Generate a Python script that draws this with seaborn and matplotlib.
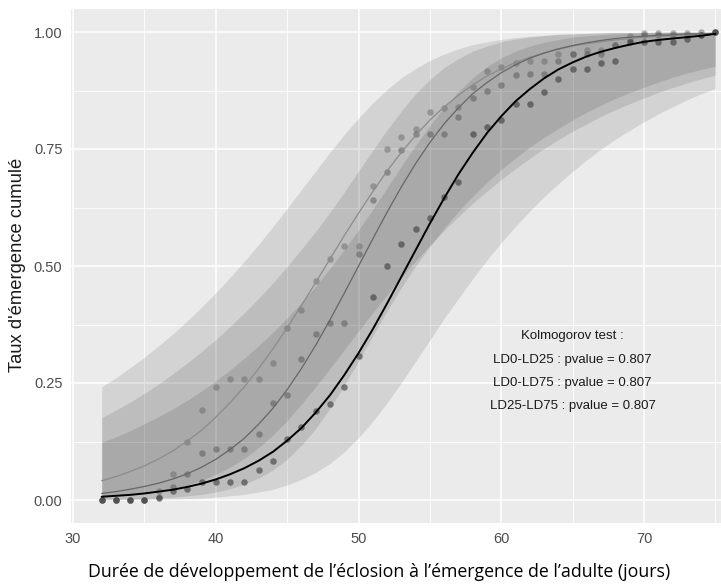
import pandas as pd
import matplotlib
matplotlib.use("Agg")
from matplotlib import pyplot as plt
import seaborn as sns

days = list(range(32, 76))

# observed cumulative emergence, one value per day (32..75)
pts_ld0 = [0, 0, 0, 0, 0.005, 0.019, 0.023, 0.039, 0.039, 0.039, 0.039,
           0.064, 0.083, 0.13, 0.155, 0.19, 0.205, 0.242, 0.308,
           0.434, 0.499, 0.546, 0.578, 0.602, 0.647, 0.679,
           0.782, 0.798, 0.812, 0.846, 0.846, 0.872, 0.899,
           0.922, 0.922, 0.933, 0.939,
           0.979, 0.979, 0.979, 0.979, 0.986, 0.994, 1.0]
pts_ld75 = [0, 0, 0, 0, 0.007, 0.028, 0.056, 0.1, 0.11, 0.11, 0.11,
            0.141, 0.207, 0.224, 0.301, 0.355, 0.379, 0.379, 0.525,
            0.642, 0.70, 0.748, 0.783, 0.783, 0.783, 0.818,
            0.858, 0.875, 0.886, 0.908, 0.91, 0.91, 0.937,
            0.954, 0.954, 0.954, 0.972,
            0.983, 0.994, 0.994, 0.994, 0.994, 0.994, 1.0]
pts_ld25 = [0, 0, 0, 0, 0.02, 0.055, 0.125, 0.192, 0.242, 0.258, 0.258,
            0.258, 0.293, 0.368, 0.407, 0.468, 0.516, 0.543, 0.543,
            0.671, 0.75, 0.775, 0.793, 0.83, 0.838, 0.84,
            0.883, 0.917, 0.926, 0.933, 0.937, 0.937, 0.954,
            0.954, 0.962, 0.962, 0.972,
            0.992, 0.997, 0.997, 0.997, 0.997, 1.0, 1.0]

# fitted curves and their confidence bands
fit_ld0 = [0.007, 0.009, 0.011, 0.014, 0.018, 0.022, 0.028, 0.035, 0.044, 0.055,
           0.068, 0.084, 0.103, 0.127, 0.154, 0.187, 0.224, 0.267, 0.314, 0.365,
           0.420, 0.477, 0.534, 0.591, 0.645, 0.696, 0.742, 0.784, 0.820, 0.852,
           0.878, 0.901, 0.920, 0.935, 0.948, 0.958, 0.966, 0.973, 0.979, 0.983,
           0.986, 0.989, 0.992, 0.996]
lo_ld0 = [0.000, 0.001, 0.001, 0.001, 0.002, 0.002, 0.003, 0.004, 0.006, 0.009,
          0.012, 0.017, 0.023, 0.032, 0.044, 0.059, 0.078, 0.103, 0.133, 0.168,
          0.208, 0.251, 0.296, 0.342, 0.388, 0.431, 0.473, 0.513, 0.550, 0.585,
          0.617, 0.648, 0.676, 0.702, 0.727, 0.750, 0.771, 0.790, 0.808, 0.825,
          0.840, 0.855, 0.868, 0.879]
hi_ld0 = [0.123, 0.135, 0.148, 0.163, 0.178, 0.195, 0.213, 0.233, 0.255, 0.278,
          0.303, 0.330, 0.358, 0.389, 0.422, 0.457, 0.495, 0.535, 0.577, 0.621,
          0.667, 0.713, 0.758, 0.800, 0.839, 0.873, 0.902, 0.926, 0.945, 0.959,
          0.970, 0.978, 0.984, 0.989, 0.992, 0.994, 0.996, 0.997, 0.998, 0.999,
          0.999, 0.999, 0.999, 1.000]

fit_ld75 = [0.014, 0.018, 0.023, 0.029, 0.036, 0.045, 0.056, 0.070, 0.087, 0.108,
            0.132, 0.162, 0.196, 0.236, 0.281, 0.331, 0.385, 0.442, 0.500, 0.558,
            0.615, 0.669, 0.719, 0.764, 0.804, 0.838, 0.868, 0.892, 0.913, 0.930,
            0.944, 0.955, 0.964, 0.971, 0.977, 0.982, 0.986, 0.989, 0.991, 0.993,
            0.994, 0.996, 0.996, 0.997]
lo_ld75 = [0.001, 0.001, 0.002, 0.003, 0.004, 0.006, 0.009, 0.012, 0.017, 0.024,
           0.034, 0.047, 0.064, 0.087, 0.117, 0.153, 0.196, 0.245, 0.297, 0.351,
           0.404, 0.454, 0.500, 0.542, 0.581, 0.617, 0.649, 0.679, 0.706, 0.731,
           0.754, 0.775, 0.794, 0.812, 0.829, 0.844, 0.858, 0.871, 0.882, 0.893,
           0.903, 0.912, 0.920, 0.927]
hi_ld75 = [0.176, 0.192, 0.209, 0.228, 0.248, 0.270, 0.293, 0.317, 0.343, 0.371,
           0.400, 0.431, 0.464, 0.499, 0.536, 0.574, 0.615, 0.658, 0.703, 0.747,
           0.791, 0.831, 0.868, 0.898, 0.924, 0.943, 0.959, 0.970, 0.979, 0.985,
           0.989, 0.992, 0.995, 0.996, 0.997, 0.998, 0.999, 0.999, 0.999, 1.000,
           1.000, 1.000, 1.000, 1.000]

fit_ld25 = [0.041, 0.050, 0.061, 0.073, 0.088, 0.105, 0.126, 0.149, 0.177, 0.208,
            0.242, 0.281, 0.323, 0.368, 0.416, 0.465, 0.515, 0.565, 0.613, 0.659,
            0.703, 0.743, 0.779, 0.812, 0.840, 0.865, 0.887, 0.906, 0.921, 0.935,
            0.946, 0.955, 0.963, 0.970, 0.975, 0.979, 0.983, 0.986, 0.989, 0.991,
            0.992, 0.994, 0.995, 0.996]
lo_ld25 = [0.006, 0.008, 0.010, 0.014, 0.019, 0.024, 0.032, 0.042, 0.055, 0.070,
           0.089, 0.112, 0.139, 0.170, 0.205, 0.242, 0.281, 0.321, 0.361, 0.400,
           0.439, 0.476, 0.511, 0.544, 0.576, 0.606, 0.634, 0.660, 0.685, 0.708,
           0.730, 0.751, 0.770, 0.788, 0.804, 0.820, 0.834, 0.847, 0.859, 0.871,
           0.881, 0.891, 0.900, 0.908]
hi_ld25 = [0.242, 0.261, 0.283, 0.305, 0.330, 0.355, 0.383, 0.412, 0.443, 0.476,
           0.510, 0.546, 0.584, 0.623, 0.663, 0.703, 0.743, 0.781, 0.816, 0.849,
           0.877, 0.902, 0.922, 0.939, 0.953, 0.964, 0.973, 0.979, 0.984, 0.988,
           0.991, 0.993, 0.995, 0.996, 0.997, 0.998, 0.999, 0.999, 0.999, 0.999,
           1.000, 1.000, 1.000, 1.000]

ks_lines = ['Kolmogorov test :', 'LD0-LD25 : pvalue = 0.807',
            'LD0-LD75 : pvalue = 0.807', 'LD25-LD75 : pvalue = 0.807']


def build_frame():
    rows = []
    for grp, pts, fit, lo, hi in [('LD0', pts_ld0, fit_ld0, lo_ld0, hi_ld0),
                                  ('LD75', pts_ld75, fit_ld75, lo_ld75, hi_ld75),
                                  ('LD25', pts_ld25, fit_ld25, lo_ld25, hi_ld25)]:
        for i, day in enumerate(days):
            rows.append((grp, day, pts[i], fit[i], lo[i], hi[i]))
    return pd.DataFrame(rows, columns=['grp', 'day', 'obs', 'fit', 'lo', 'hi'])


df = build_frame()

sns.set_style("darkgrid", {"axes.facecolor": "#ebebeb", "grid.color": "white"})
plt.rcParams['font.family'] = ['Liberation Sans', 'DejaVu Sans']

fig = plt.figure(figsize=(7.21, 5.84), dpi=100)
# the panel runs past the right edge of the picture, as in the original
ax = fig.add_axes([71 / 721, (584 - 523.4) / 584, 675 / 721, 514.8 / 584])

line_col = {'LD0': '#000000', 'LD75': '#666666', 'LD25': '#8c8c8c'}
pt_col = {'LD0': '#2e2e2e', 'LD75': '#555555', 'LD25': '#6a6a6a'}
pt_alpha = {'LD0': 0.55, 'LD75': 0.5, 'LD25': 0.5}
line_w = {'LD0': 1.4, 'LD75': 0.9, 'LD25': 0.9}

for grp in ['LD0', 'LD75', 'LD25']:
    sub = df[df.grp == grp]
    ax.fill_between(sub.day, sub.lo, sub.hi, color='black', alpha=0.1, lw=0)

for grp in ['LD25', 'LD75', 'LD0']:
    sub = df[df.grp == grp]
    sns.scatterplot(data=sub, x='day', y='obs', ax=ax, color=pt_col[grp],
                    alpha=pt_alpha[grp], s=22, linewidth=0, zorder=3)

for grp in ['LD25', 'LD75', 'LD0']:
    sub = df[df.grp == grp]
    sns.lineplot(data=sub, x='day', y='fit', ax=ax, color=line_col[grp],
                 lw=line_w[grp], zorder=4)

ax.set_xlim(29.85, 77.15)
ax.set_ylim(-0.05, 1.05)
ax.set_xticks([30, 40, 50, 60, 70])
ax.set_yticks([0, 0.25, 0.5, 0.75, 1.0])
ax.set_yticklabels(['0.00', '0.25', '0.50', '0.75', '1.00'])
ax.set_xticks([35, 45, 55, 65, 75], minor=True)
ax.set_yticks([0.125, 0.375, 0.625, 0.875], minor=True)
ax.grid(which='major', color='white', lw=1.1)
ax.grid(which='minor', color='white', lw=0.6)
ax.tick_params(which='major', length=3.6, width=0.8, color='#333333',
               labelcolor='#4d4d4d', labelsize=10.5, pad=2.6)
ax.tick_params(which='minor', length=0)
for sp in ax.spines.values():
    sp.set_visible(False)
ax.set_xlabel('')
ax.set_ylabel('')

for y, s in zip([0.35, 0.30, 0.25, 0.20], ks_lines):
    ax.text(65, y, s, ha='center', va='center', fontsize=9.5, color='#1a1a1a')

fig.text(18 / 721, 1 - 265 / 584, "Taux d'émergence cumulé", rotation=90,
         ha='center', va='center', fontsize=13.2, color='#1a1a1a')
fig.text(379.5 / 721, 1 - 572 / 584,
         'Durée de développement de l’éclosion à l’émergence de l’adulte (jours)',
         ha='center', va='center', fontsize=12.8, family='Open Sans', color='black')

fig.savefig('out.png', dpi=100)
